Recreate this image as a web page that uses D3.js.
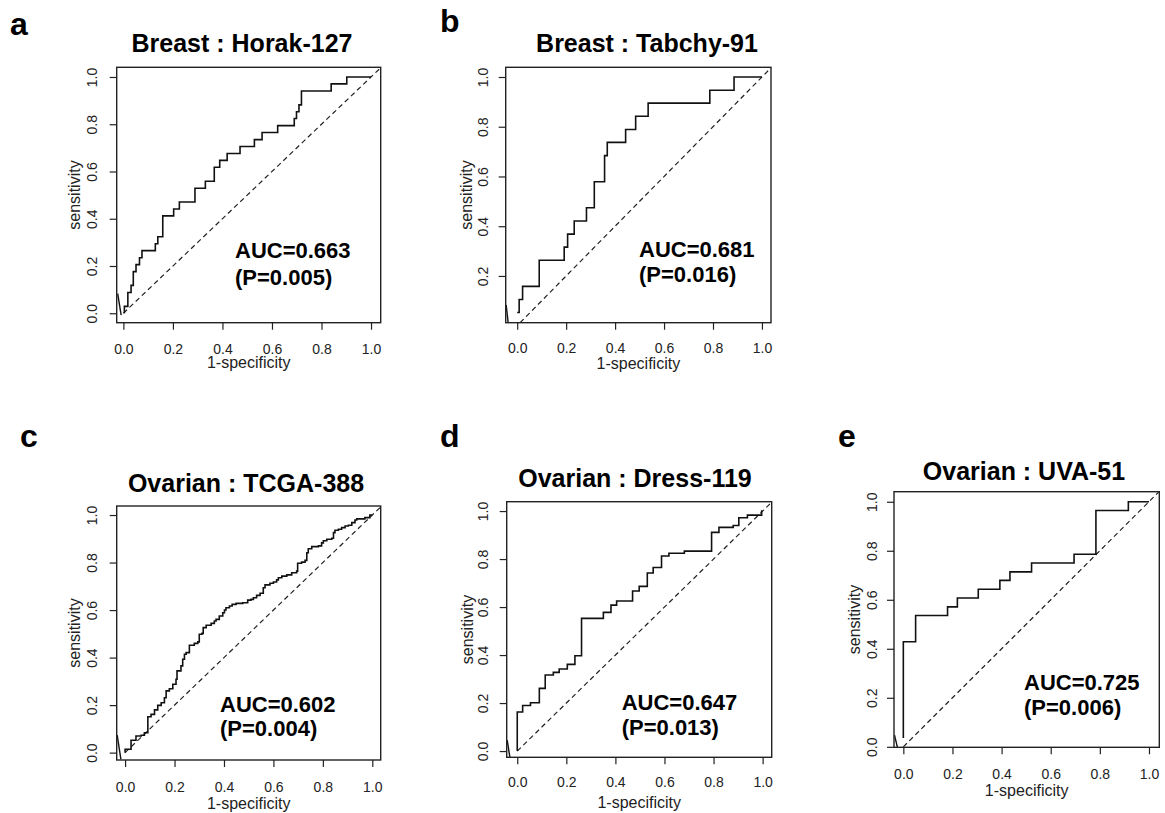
<!DOCTYPE html>
<html>
<head>
<meta charset="utf-8">
<title>ROC curves</title>
<style>
  body { margin: 0; background: #fff; }
  text { font-family: "Liberation Sans", Arial, Helvetica, sans-serif; }
</style>
</head>
<body>
<script src="https://cdn.jsdelivr.net/npm/d3@7"></script>
<script>
// DATA
var panelLetters = ["a", "b", "c", "d", "e"];
var titles = ["Breast : Horak-127", "Breast : Tabchy-91", "Ovarian : TCGA-388", "Ovarian : Dress-119", "Ovarian : UVA-51"];
var aucLabels = ["AUC=0.663", "AUC=0.681", "AUC=0.602", "AUC=0.647", "AUC=0.725"];
var pLabels = ["(P=0.005)", "(P=0.016)", "(P=0.004)", "(P=0.013)", "(P=0.006)"];
var tickValues = [0, 0.2, 0.4, 0.6, 0.8, 1.0];
var xTitle = "1-specificity";
var yTitle = "sensitivity";

// ROC points (1-specificity, sensitivity), drawn as steps
var fprA = [0.004, 0.018, 0.031, 0.040, 0.051, 0.065, 0.075, 0.129, 0.139, 0.159, 0.203, 0.226, 0.289, 0.331, 0.367, 0.389, 0.419, 0.471, 0.529, 0.560, 0.623, 0.690, 0.699, 0.709, 0.719, 0.839, 0.902, 1.0];
var tprA = [0, 0.029, 0.088, 0.118, 0.176, 0.206, 0.235, 0.265, 0.294, 0.324, 0.412, 0.441, 0.471, 0.529, 0.559, 0.618, 0.647, 0.676, 0.706, 0.735, 0.765, 0.794, 0.824, 0.853, 0.882, 0.941, 0.971, 1.0];

var fprB = [0.0, 0.008, 0.022, 0.090, 0.192, 0.206, 0.233, 0.283, 0.315, 0.357, 0.368, 0.443, 0.484, 0.535, 0.787, 0.886, 1.0];
var tprB = [0.053, 0.053, 0.105, 0.158, 0.263, 0.316, 0.368, 0.421, 0.474, 0.579, 0.684, 0.737, 0.789, 0.842, 0.895, 0.947, 1.0];

var fprC = [0, 0.024, 0.044, 0.065, 0.078, 0.092, 0.105, 0.119, 0.132, 0.146, 0.159, 0.166, 0.179, 0.193, 0.206, 0.210, 0.226, 0.233, 0.240, 0.247, 0.260, 0.280, 0.294, 0.300, 0.311, 0.316, 0.328, 0.348, 0.361, 0.368, 0.381, 0.395, 0.402, 0.408, 0.422, 0.433, 0.449, 0.476, 0.496, 0.509,
  0.519, 0.532, 0.546, 0.559, 0.566, 0.586, 0.600, 0.613, 0.620, 0.634, 0.654, 0.674, 0.694, 0.698, 0.714, 0.728, 0.735, 0.741, 0.755, 0.782, 0.795, 0.802, 0.816, 0.836, 0.843, 0.849, 0.863, 0.876, 0.890, 0.903, 0.917, 0.930, 0.937, 0.970, 0.990, 1.0];
var tprC = [0, 0.014, 0.052, 0.070, 0.073, 0.084, 0.151, 0.161, 0.180, 0.199, 0.210, 0.231, 0.260, 0.269, 0.288, 0.309, 0.344, 0.365, 0.393, 0.414, 0.421, 0.452, 0.460, 0.466, 0.498, 0.502, 0.526, 0.536, 0.544, 0.554, 0.561, 0.575, 0.589, 0.600, 0.610, 0.617, 0.624, 0.628, 0.631, 0.642,
  0.645, 0.652, 0.662, 0.671, 0.694, 0.706, 0.713, 0.718, 0.727, 0.736, 0.743, 0.748, 0.757, 0.764, 0.797, 0.802, 0.809, 0.841, 0.858, 0.867, 0.870, 0.883, 0.892, 0.898, 0.902, 0.926, 0.936, 0.940, 0.947, 0.954, 0.957, 0.968, 0.979, 0.984, 0.989, 1.0];

var fprD = [0, 0.022, 0.054, 0.090, 0.114, 0.147, 0.171, 0.204, 0.235, 0.262, 0.351, 0.382, 0.405, 0.470, 0.497, 0.530, 0.554, 0.588, 0.618, 0.681, 0.792, 0.822, 0.880, 0.903, 0.938, 0.996, 1.0];
var tprD = [0, 0.163, 0.190, 0.201, 0.261, 0.317, 0.328, 0.342, 0.361, 0.397, 0.553, 0.578, 0.608, 0.625, 0.667, 0.686, 0.742, 0.765, 0.813, 0.824, 0.833, 0.911, 0.932, 0.940, 0.972, 0.983, 1.0];

var fprE = [0, 0.050, 0.180, 0.220, 0.305, 0.393, 0.434, 0.522, 0.695, 0.784, 0.916, 1.0];
var tprE = [0.036, 0.429, 0.536, 0.571, 0.607, 0.643, 0.679, 0.714, 0.750, 0.786, 0.964, 1.0];

// short stray strokes at the lower-left corner of each plot
var tails = [
  [[-0.023, 0.083], [-0.009, -0.008]],
  [[-0.045, 0.083], [-0.037, 0.012]],
  [[-0.032, 0.074], [-0.017, -0.028]],
  [[-0.041, 0.046], [-0.030, -0.026]],
  [[-0.036, 0.048], [-0.024, -0.002]]
];

var fprs = [fprA, fprB, fprC, fprD, fprE];
var tprs = [tprA, tprB, tprC, tprD, tprE];

// LAYOUT (pixel boxes and label positions per panel)
var layout = [
  {L: 116.7, T: 67.3, R: 380.7, B: 322.7, xd: [-0.027, 1.039], yd: [-0.040, 1.041], title: [242, 52], letter: [10, 35], auc: [235, 258, 285], ytb: 97, ytt: 80, xtb: 354, xtt: 368},
  {L: 505.7, T: 67.3, R: 771, B: 322.7, xd: [-0.047, 1.037], yd: [0.012, 1.039], title: [647, 52], letter: [440, 31.7], auc: [639, 256.5, 282], ytb: 488.3, ytt: 471.7, xtb: 353, xtt: 369},
  {L: 116.7, T: 506, R: 380.7, B: 760, xd: [-0.034, 1.034], yd: [-0.031, 1.038], title: [246, 491.7], letter: [20, 446.7], auc: [220, 712, 736], ytb: 96.7, ytt: 80, xtb: 792.3, xtt: 809},
  {L: 506.7, T: 501.7, R: 771.7, B: 757.3, xd: [-0.043, 1.037], yd: [-0.026, 1.039], title: [635, 486.7], letter: [440, 446.7], auc: [621.7, 710, 735], ytb: 488.3, ytt: 473.3, xtb: 787.3, xtt: 807.5},
  {L: 894, T: 491.7, R: 1159.3, B: 747.3, xd: [-0.038, 1.042], yd: [-0.002, 1.041], title: [1024, 480], letter: [838, 446.7], auc: [1024, 690, 715], ytb: 876.7, ytt: 860, xtb: 779, xtt: 796}
];

var svg = d3.select("body").append("svg")
  .attr("width", 1165)
  .attr("height", 813);

layout.forEach(function(p, i) {
  var x = d3.scaleLinear().domain(p.xd).range([p.L, p.R]);
  var y = d3.scaleLinear().domain(p.yd).range([p.B, p.T]);
  var g = svg.append("g");

  // panel letter + title
  g.append("text").attr("x", p.letter[0]).attr("y", p.letter[1])
    .attr("font-size", 32).attr("font-weight", "bold").text(panelLetters[i]);
  g.append("text").attr("x", p.title[0]).attr("y", p.title[1])
    .attr("text-anchor", "middle").attr("font-size", 25).attr("font-weight", "bold")
    .text(titles[i]);

  // clip to plot region
  g.append("clipPath").attr("id", "clip" + i)
    .append("rect").attr("x", p.L).attr("y", p.T).attr("width", p.R - p.L).attr("height", p.B - p.T);
  var plot = g.append("g").attr("clip-path", "url(#clip" + i + ")");

  // chance diagonal
  var d0 = Math.max(0, p.xd[0], p.yd[0]);
  var d1 = Math.min(p.xd[1], p.yd[1]);
  plot.append("line")
    .attr("x1", x(d0)).attr("y1", y(d0)).attr("x2", x(d1)).attr("y2", y(d1))
    .attr("stroke", "#222").attr("stroke-width", 1.2).attr("stroke-dasharray", "5,3.5");

  // ROC curve
  var pts = fprs[i].map(function(f, k) { return [f, tprs[i][k]]; });
  var line = d3.line()
    .x(function(d) { return x(d[0]); })
    .y(function(d) { return y(d[1]); })
    .curve(d3.curveStepBefore);
  plot.append("path").datum(pts).attr("d", line)
    .attr("fill", "none").attr("stroke", "#111").attr("stroke-width", 1.6);

  plot.append("path").datum(tails[i]).attr("d", d3.line().x(function(d) { return x(d[0]); }).y(function(d) { return y(d[1]); }))
    .attr("fill", "none").attr("stroke", "#111").attr("stroke-width", 1.4);

  // box
  g.append("rect").attr("x", p.L).attr("y", p.T).attr("width", p.R - p.L).attr("height", p.B - p.T)
    .attr("fill", "none").attr("stroke", "#222").attr("stroke-width", 1.4);

  // x axis
  var xa = g.append("g").attr("transform", "translate(0," + p.B + ")")
    .call(d3.axisBottom(x).tickValues(tickValues).tickSize(7).tickFormat(d3.format(".1f")));
  xa.select(".domain").remove();
  xa.selectAll("line").attr("stroke", "#222").attr("stroke-width", 1.2);
  xa.selectAll("text").attr("y", p.xtb - p.B).attr("dy", null)
    .attr("font-size", 14).attr("fill", "#222").style("font-family", "'Liberation Sans', Arial, sans-serif");

  // y axis
  var yt = tickValues.filter(function(v) { return v >= p.yd[0] && v <= p.yd[1]; });
  var ya = g.append("g").attr("transform", "translate(" + p.L + ",0)")
    .call(d3.axisLeft(y).tickValues(yt).tickSize(7).tickFormat(d3.format(".1f")));
  ya.select(".domain").remove();
  ya.selectAll("line").attr("stroke", "#222").attr("stroke-width", 1.2);
  ya.selectAll("text").attr("x", 0).attr("dy", null)
    .attr("transform", "translate(" + (p.ytb - p.L) + ",0) rotate(-90)")
    .attr("text-anchor", "middle")
    .attr("font-size", 14).attr("fill", "#222").style("font-family", "'Liberation Sans', Arial, sans-serif");

  // axis titles
  g.append("text").attr("x", (p.L + p.R) / 2).attr("y", p.xtt)
    .attr("text-anchor", "middle").attr("font-size", 16).attr("fill", "#222").text(xTitle);
  g.append("text")
    .attr("transform", "translate(" + p.ytt + "," + ((p.T + p.B) / 2) + ") rotate(-90)")
    .attr("text-anchor", "middle").attr("font-size", 16).attr("fill", "#222").text(yTitle);

  // AUC annotation
  g.append("text").attr("x", p.auc[0]).attr("y", p.auc[1])
    .attr("font-size", 22).attr("font-weight", "bold").text(aucLabels[i]);
  g.append("text").attr("x", p.auc[0]).attr("y", p.auc[2])
    .attr("font-size", 22).attr("font-weight", "bold").text(pLabels[i]);
});
</script>
</body>
</html>
